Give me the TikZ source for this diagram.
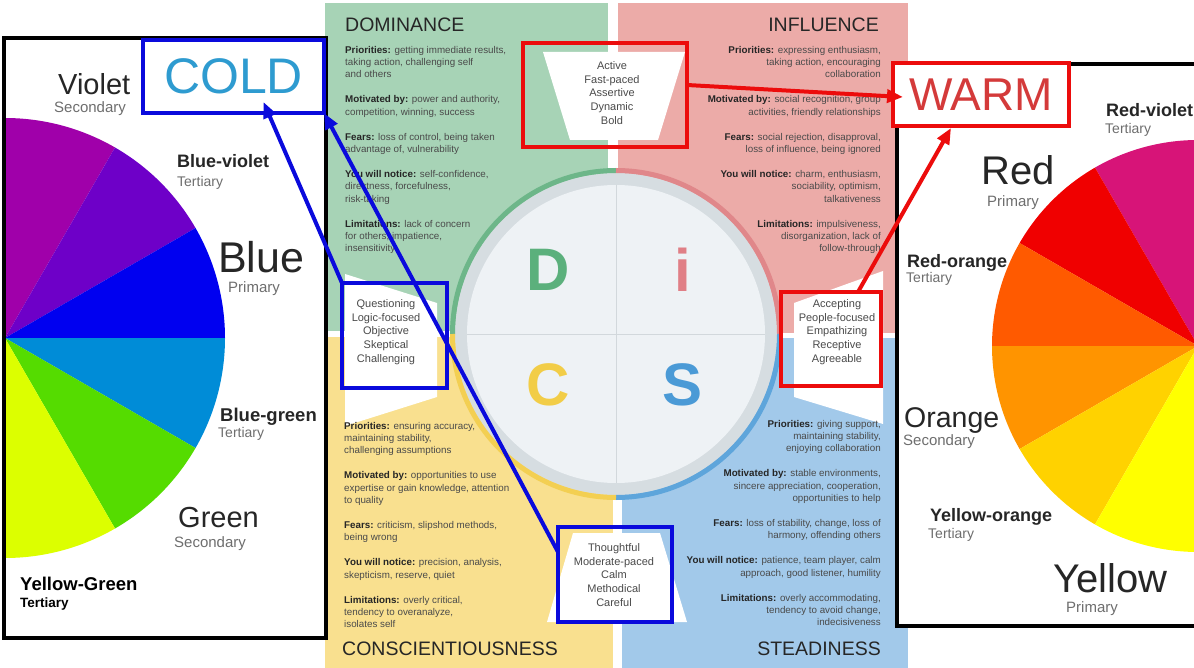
\documentclass[tikz,border=0pt]{standalone}
\usepackage{fontspec}
\setmainfont{Liberation Sans}
\usepackage{tikz}
\usetikzlibrary{arrows.meta}

\definecolor{dgreen}{HTML}{A7D3B6}
\definecolor{dred}{HTML}{ECABA8}
\definecolor{dyellow}{HTML}{F9E08F}
\definecolor{dblue}{HTML}{A2C9EA}
\definecolor{rgreen}{HTML}{6DB689}
\definecolor{rred}{HTML}{E0878A}
\definecolor{ryellow}{HTML}{F3CF52}
\definecolor{rblue}{HTML}{5EA5DB}
\definecolor{letD}{HTML}{5BB07C}
\definecolor{letI}{HTML}{E07F86}
\definecolor{letC}{HTML}{F2CD47}
\definecolor{letS}{HTML}{4A9AD6}
\definecolor{ringgray}{HTML}{D6DDE1}
\definecolor{diskc}{HTML}{EEF2F5}
\definecolor{crossgray}{HTML}{D2D8DC}
\definecolor{boxblue}{HTML}{0A0ADC}
\definecolor{boxred}{HTML}{EC0C0C}
\definecolor{coldtxt}{HTML}{2E9BD0}
\definecolor{warmtxt}{HTML}{D43A3A}
\definecolor{bodytxt}{HTML}{4A4A4A}
\definecolor{labgray}{HTML}{6E6E6E}
\definecolor{pviolet}{HTML}{A000AA}
\definecolor{pbviolet}{HTML}{6E00C8}
\definecolor{pblue}{HTML}{0000F0}
\definecolor{pbgreen}{HTML}{008CD7}
\definecolor{pgreen}{HTML}{55DC00}
\definecolor{pygreen}{HTML}{DCFF00}
\definecolor{prviolet}{HTML}{D71478}
\definecolor{pred}{HTML}{F00000}
\definecolor{prorange}{HTML}{FF5A00}
\definecolor{porange}{HTML}{FF9400}
\definecolor{pyorange}{HTML}{FFD200}
\definecolor{pyellow}{HTML}{FFFF00}

\newcommand{\leadin}[1]{\textcolor{black!85}{\bfseries #1}}

\begin{document}
\begin{tikzpicture}[x=1pt,y=-1pt,
  box/.style={draw,line width=4.5pt,inner sep=0pt,outer sep=0pt},
  boxtext/.style={align=center,inner sep=0pt,font=\fontsize{11}{13.8}\selectfont,text=bodytxt},
  body/.style={inner sep=0pt,font=\fontsize{9.8}{12.4}\selectfont,text=bodytxt},
  title/.style={inner sep=0pt,font=\fontsize{19.5}{20}\selectfont,text=black!85},
  letter/.style={font=\fontsize{60}{60}\selectfont\bfseries},
  big/.style={inner sep=0pt,anchor=base west,text=black!85},
  sub/.style={inner sep=0pt,anchor=base west,text=labgray,font=\fontsize{15}{16}\selectfont},
  arrowline/.style={line width=4pt,-{Triangle[length=16pt,width=13pt]}},
  coldarrow/.style={arrowline,boxblue},
  warmarrow/.style={arrowline,boxred}]

\clip (0,0) rectangle (1194,668);
\fill[white] (0,0) rectangle (1194,668);

\fill[dgreen] (325,3) rectangle (608,331);
\fill[dred] (618,3) rectangle (908,333);
\fill[dyellow] (325,337) rectangle (613,668);
\fill[dblue] (622,338) rectangle (908,668);

\fill[ringgray] (616,334) circle[radius=161pt];
\fill[diskc] (616,334) circle[radius=149pt];
\draw[crossgray,line width=1pt] (616,185) -- (616,483);
\draw[crossgray,line width=1pt] (467,334) -- (765,334);
\draw[rgreen,line width=5pt] (616,334) ++(180:163.5pt) arc[start angle=180,end angle=90,radius=163.5pt];
\draw[rred,line width=5pt] (616,334) ++(90:163.5pt) arc[start angle=90,end angle=0,radius=163.5pt];
\draw[rblue,line width=5pt] (616,334) ++(0:163.5pt) arc[start angle=0,end angle=-90,radius=163.5pt];
\draw[ryellow,line width=5pt] (616,334) ++(-90:163.5pt) arc[start angle=-90,end angle=-180,radius=163.5pt];

\node[letter,text=letD] (dletter) at (548,270) {D};
\node[letter,text=letI] (iletter) at (683,270) {i};
\node[letter,text=letC] (cletter) at (548,385) {C};
\node[letter,text=letS] (sletter) at (683,385) {S};

\fill[white] (543,52) -- (685,52) -- (658,140) -- (570,140) -- cycle;
\fill[white] (345,274) -- (437,303) -- (437,397) -- (345,426) -- cycle;
\fill[white] (883,271) -- (794,303) -- (794,397) -- (883,424) -- cycle;
\fill[white] (573,533) -- (660,533) -- (687,622) -- (547,622) -- cycle;

\node[title,anchor=base west] (dtitle) at (345,32) {DOMINANCE};
\node[title,anchor=base east] (ititle) at (879,32) {INFLUENCE};
\node[title,anchor=base west] (ctitle) at (342,655) {CONSCIENTIOUSNESS};
\node[title,anchor=base east] (stitle) at (881,655) {STEADINESS};

\node[body,anchor=north west,align=left] (dtext) at (345,45.8) {%
\leadin{Priorities:} getting immediate results,\\ taking action, challenging self\\ and others\\[12.5pt]
\leadin{Motivated by:} power and authority,\\ competition, winning, success\\[12.5pt]
\leadin{Fears:} loss of control, being taken\\ advantage of, vulnerability\\[12.5pt]
\leadin{You will notice:} self-confidence,\\ directness, forcefulness,\\ risk-taking\\[12.5pt]
\leadin{Limitations:} lack of concern\\ for others, impatience,\\ insensitivity};

\node[body,anchor=north east,align=right] (itext) at (881,45.8) {%
\leadin{Priorities:} expressing enthusiasm,\\ taking action, encouraging\\ collaboration\\[12.5pt]
\leadin{Motivated by:} social recognition, group\\ activities, friendly relationships\\[12.5pt]
\leadin{Fears:} social rejection, disapproval,\\ loss of influence, being ignored\\[12.5pt]
\leadin{You will notice:} charm, enthusiasm,\\ sociability, optimism,\\ talkativeness\\[12.5pt]
\leadin{Limitations:} impulsiveness,\\ disorganization, lack of\\ follow-through};

\node[body,anchor=north west,align=left] (ctext) at (344,421.8) {%
\leadin{Priorities:} ensuring accuracy,\\ maintaining stability,\\ challenging assumptions\\[12.5pt]
\leadin{Motivated by:} opportunities to use\\ expertise or gain knowledge, attention\\ to quality\\[12.5pt]
\leadin{Fears:} criticism, slipshod methods,\\ being wrong\\[12.5pt]
\leadin{You will notice:} precision, analysis,\\ skepticism, reserve, quiet\\[12.5pt]
\leadin{Limitations:} overly critical,\\ tendency to overanalyze,\\ isolates self};

\node[body,anchor=north east,align=right] (stext) at (881,419.8) {%
\leadin{Priorities:} giving support,\\ maintaining stability,\\ enjoying collaboration\\[12.5pt]
\leadin{Motivated by:} stable environments,\\ sincere appreciation, cooperation,\\ opportunities to help\\[12.5pt]
\leadin{Fears:} loss of stability, change, loss of\\ harmony, offending others\\[12.5pt]
\leadin{You will notice:} patience, team player, calm\\ approach, good listener, humility\\[12.5pt]
\leadin{Limitations:} overly accommodating,\\ tendency to avoid change,\\ indecisiveness};

\node[boxtext] (activetxt) at (612,93) {Active\\Fast-paced\\Assertive\\Dynamic\\Bold};
\node[boxtext] (questtxt) at (386,332) {Questioning\\Logic-focused\\Objective\\Skeptical\\Challenging};
\node[boxtext] (accepttxt) at (837,332) {Accepting\\People-focused\\Empathizing\\Receptive\\Agreeable};
\node[boxtext] (thoughttxt) at (614,575) {Thoughtful\\Moderate-paced\\Calm\\Methodical\\Careful};

\fill[white] (4,38) rectangle (326,638);
\foreach \a/\c in {60/pviolet,30/pbviolet,0/pblue,-30/pbgreen,-60/pgreen,-90/pygreen}
  \fill[\c] (5,338) -- ++(\a:220pt) arc[start angle=\a,delta angle=30,radius=220pt] -- cycle;
\draw[line width=4pt] (4,38) rectangle (326,638);

\node[big,font=\fontsize{29}{30}\selectfont] (violet) at (58,95) {Violet};
\node[sub] (violetsub) at (54,113) {Secondary};
\node[big,font=\fontsize{18}{20}\selectfont\bfseries] (bviolet) at (177,168) {Blue-violet};
\node[sub,font=\fontsize{14}{15}\selectfont] (bvioletsub) at (177,187) {Tertiary};
\node[big,font=\fontsize{43}{44}\selectfont] (blue) at (218,273) {Blue};
\node[sub] (bluesub) at (228,293) {Primary};
\node[big,font=\fontsize{18.5}{20}\selectfont\bfseries] (bgreen) at (220,421) {Blue-green};
\node[sub,font=\fontsize{14}{15}\selectfont] (bgreensub) at (218,437) {Tertiary};
\node[big,font=\fontsize{29}{30}\selectfont] (green) at (178,527) {Green};
\node[sub] (greensub) at (174,547) {Secondary};
\node[big,font=\fontsize{18.5}{20}\selectfont\bfseries,text=black] (ygreen) at (20,590) {Yellow-Green};
\node[sub,font=\fontsize{13.5}{15}\selectfont\bfseries,text=black] (ygreensub) at (20,607) {Tertiary};

\fill[white] (897,64) rectangle (1210,626);
\foreach \a/\c in {90/prviolet,120/pred,150/prorange,180/porange,210/pyorange,240/pyellow}
  \fill[\c] (1198,346) -- ++(\a:206pt) arc[start angle=\a,delta angle=30,radius=206pt] -- cycle;
\draw[line width=4pt] (897,64) rectangle (1210,626);

\node[big,font=\fontsize{18}{20}\selectfont\bfseries] (rviolet) at (1106,117) {Red-violet};
\node[sub,font=\fontsize{14}{15}\selectfont] (rvioletsub) at (1105,134) {Tertiary};
\node[big,font=\fontsize{40}{42}\selectfont] (red) at (981,185) {Red};
\node[sub] (redsub) at (987,207) {Primary};
\node[big,font=\fontsize{18}{20}\selectfont\bfseries] (rorange) at (907,268) {Red-orange};
\node[sub,font=\fontsize{14}{15}\selectfont] (rorangesub) at (906,283) {Tertiary};
\node[big,font=\fontsize{28.5}{30}\selectfont] (orange) at (904,427) {Orange};
\node[sub] (orangesub) at (903,445) {Secondary};
\node[big,font=\fontsize{18}{20}\selectfont\bfseries] (yorange) at (930,521) {Yellow-orange};
\node[sub,font=\fontsize{14}{15}\selectfont] (yorangesub) at (928,538) {Tertiary};
\node[big,font=\fontsize{40}{42}\selectfont] (yellow) at (1053,592) {Yellow};
\node[sub] (yellowsub) at (1066,612) {Primary};

\node[box,boxred,minimum width=164pt,minimum height=104pt] (active) at (605,95) {};
\node[box,boxblue,minimum width=105pt,minimum height=105pt] (quest) at (394.5,335.5) {};
\node[box,boxred,minimum width=100pt,minimum height=94pt] (accept) at (831,339) {};
\node[box,boxblue,minimum width=114pt,minimum height=95pt] (thought) at (615,574.5) {};
\node[box,boxblue,fill=white,text=coldtxt,font=\fontsize{50}{52}\selectfont,minimum width=181pt,minimum height=73pt] (cold) at (233.5,76.5) {COLD};
\node[box,boxred,fill=white,text=warmtxt,font=\fontsize{46}{48}\selectfont,minimum width=176pt,minimum height=63pt] (warm) at (981,94.5) {WARM};

\draw[coldarrow] (quest.north west) -- ([xshift=30pt,yshift=11pt]cold.south);
\draw[coldarrow] ([yshift=-25pt]thought.north west) -- (cold.south east);
\draw[warmarrow] ([yshift=10pt]active.east) -- ([xshift=10pt,yshift=-2.5pt]warm.west);
\draw[warmarrow] ([xshift=27pt]accept.north) -- ([xshift=-30pt,yshift=-2pt]warm.south);
\end{tikzpicture}
\end{document}
